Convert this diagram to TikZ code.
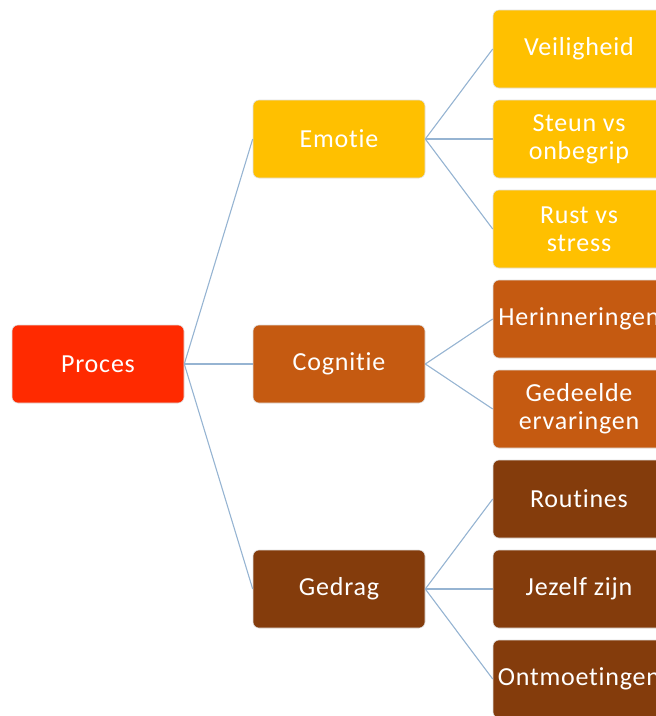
\documentclass[tikz,border=0pt]{standalone}
\usepackage{fontspec}
\setmainfont{Carlito}[Ligatures={NoCommon}, LetterSpace=3]
\definecolor{cred}{HTML}{FF2A00}
\definecolor{cgold}{HTML}{FFC000}
\definecolor{corange}{HTML}{C55A11}
\definecolor{cbrown}{HTML}{843C0C}
\definecolor{cline}{RGB}{150,180,210}
\tikzset{
  box/.style={rounded corners=6pt, minimum width=172pt, minimum height=78pt,
    inner sep=0pt, text=white, align=center, draw=black!12, line width=0.6pt,
    font=\fontsize{26}{28}\selectfont},
  link/.style={draw=cline, line width=1.1pt}
}
\begin{document}
\begin{tikzpicture}[x=1pt,y=-1pt]
\useasboundingbox (0,0) rectangle (656,716);
\clip (0,0) rectangle (656,716);
\node[box, fill=cred]    (proces)   at (98,364) {Proces};
\node[box, fill=cgold]   (emotie)   at (339,139) {Emotie};
\node[box, fill=corange] (cognitie) at (339,364) {Cognitie};
\node[box, fill=cbrown]  (gedrag)   at (339,589) {Gedrag};
\node[box, fill=cgold]   (veil)  at (579,49)  {Veiligheid};
\node[box, fill=cgold]   (steun) at (579,139) {Steun vs\\onbegrip};
\node[box, fill=cgold]   (rust)  at (579,229) {Rust vs\\stress};
\node[box, fill=corange] (herin) at (579,319) {Herinneringen};
\node[box, fill=corange] (gedeeld) at (579,409) {Gedeelde\\ervaringen};
\node[box, fill=cbrown]  (rout)  at (579,499) {Routines};
\node[box, fill=cbrown]  (jezelf) at (579,589) {Jezelf zijn};
\node[box, fill=cbrown]  (ontm)  at (579,679) {Ontmoetingen};
\draw[link] (proces.east) -- (emotie.west);
\draw[link] (proces.east) -- (cognitie.west);
\draw[link] (proces.east) -- (gedrag.west);
\draw[link] (emotie.east) -- (veil.west);
\draw[link] (emotie.east) -- (steun.west);
\draw[link] (emotie.east) -- (rust.west);
\draw[link] (cognitie.east) -- (herin.west);
\draw[link] (cognitie.east) -- (gedeeld.west);
\draw[link] (gedrag.east) -- (rout.west);
\draw[link] (gedrag.east) -- (jezelf.west);
\draw[link] (gedrag.east) -- (ontm.west);
\end{tikzpicture}
\end{document}
